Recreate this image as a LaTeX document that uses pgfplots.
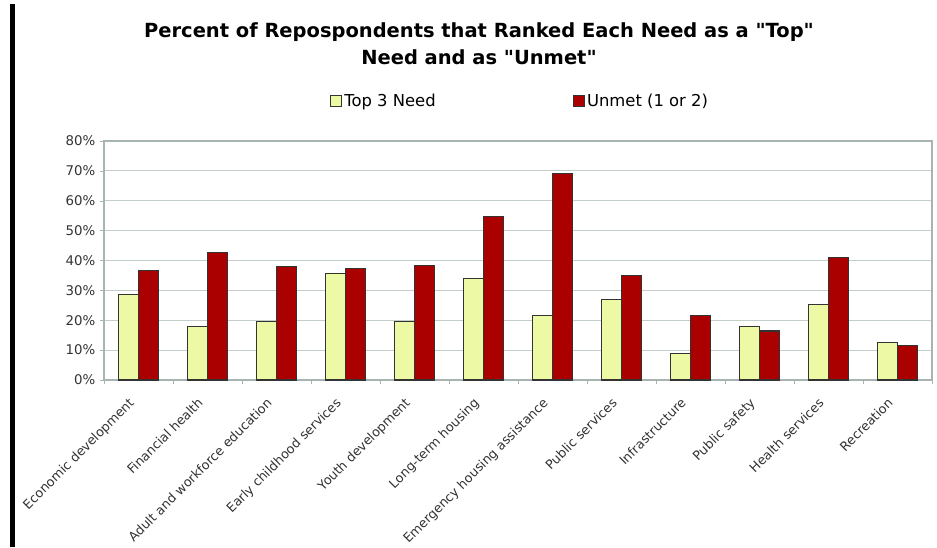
\documentclass[border=0pt]{standalone}
\usepackage{pgfplots}
\pgfplotsset{compat=1.18}
\usepackage{fontspec}
\setmainfont{DejaVu Sans}
\newfontfamily\titlefont{DejaVu Sans}[Ligatures=TeXOff]
\definecolor{topc}{HTML}{EEF9A6}
\definecolor{unmetc}{HTML}{AA0000}
\definecolor{gridc}{HTML}{C4CEC9}
\definecolor{axisc}{HTML}{A8B4AF}
\begin{document}
\begin{tikzpicture}
\useasboundingbox (-78pt,-125.25pt) rectangle (624.75pt,285pt);
\fill[black] (-70.5pt,-125.25pt) rectangle (-66.75pt,282pt);
\node[align=center,font=\titlefont\fontsize{14.6}{20.5}\selectfont\bfseries] at (281.25pt,252.4pt)
  {Percent of Repospondents that Ranked Each Need as a "Top"\\Need and as "Unmet"};
\begin{axis}[
  at={(0,0)}, anchor=south west,
  scale only axis, width=621pt, height=179.25pt,
  ybar=0pt, bar width=15pt,
  xmin=-0.5, xmax=11.5, ymin=0, ymax=80,
  xtick={0,...,11},
  xticklabels={Economic development, Financial health, Adult and workforce education, Early childhood services, Youth development, Long-term housing, Emergency housing assistance, Public services, Infrastructure, Public safety, Health services, Recreation},
  minor xtick={-0.5,0.5,...,11.5},
  ytick={0,10,...,80},
  yticklabel={\pgfmathprintnumber{\tick}\%},
  /pgf/number format/assume math mode=true,
  tick align=outside, xtick pos=bottom, ytick pos=left,
  major tick length=3pt, minor tick length=3pt,
  major x tick style={draw=none},
  minor x tick style={draw=axisc},
  y tick style={draw=axisc},
  ymajorgrids, grid style={gridc, line width=0.9pt},
  axis line style={axisc, line width=0.9pt},
  tick label style={font=\fontsize{10}{12}\selectfont, text=black!80},
  xticklabel style={xshift=-8pt, yshift=-8pt, rotate=45, anchor=north east, inner sep=1pt, font=\fontsize{9.6}{11}\selectfont},
  legend columns=2,
  legend style={at={(0.273,1.167)}, anchor=west, draw=none, fill=none, inner sep=0pt,
    font=\fontsize{12.3}{14}\selectfont,
    /tikz/every even column/.append style={column sep=0pt},
    /tikz/every odd column/.append style={column sep=0pt}},
  legend image code/.code={\draw[#1, draw=black!80, line width=0.5pt] (0pt,-4pt) rectangle (8pt,4pt);},
  every axis plot/.append style={draw=black!80, line width=0.8pt},
]
\addplot[fill=topc] coordinates {(0,28.7) (1,17.9) (2,19.7) (3,35.8) (4,19.7) (5,34.0) (6,21.6) (7,26.8) (8,8.9) (9,18.0) (10,25.2) (11,12.6)};
\addplot[fill=unmetc] coordinates {(0,36.5) (1,42.8) (2,38.0) (3,37.2) (4,38.3) (5,54.7) (6,69.1) (7,35.0) (8,21.6) (9,16.4) (10,41.1) (11,11.6)};
\legend{Top 3 Need\hspace*{101pt}, Unmet (1 or 2)}
\end{axis}
\end{tikzpicture}
\end{document}
